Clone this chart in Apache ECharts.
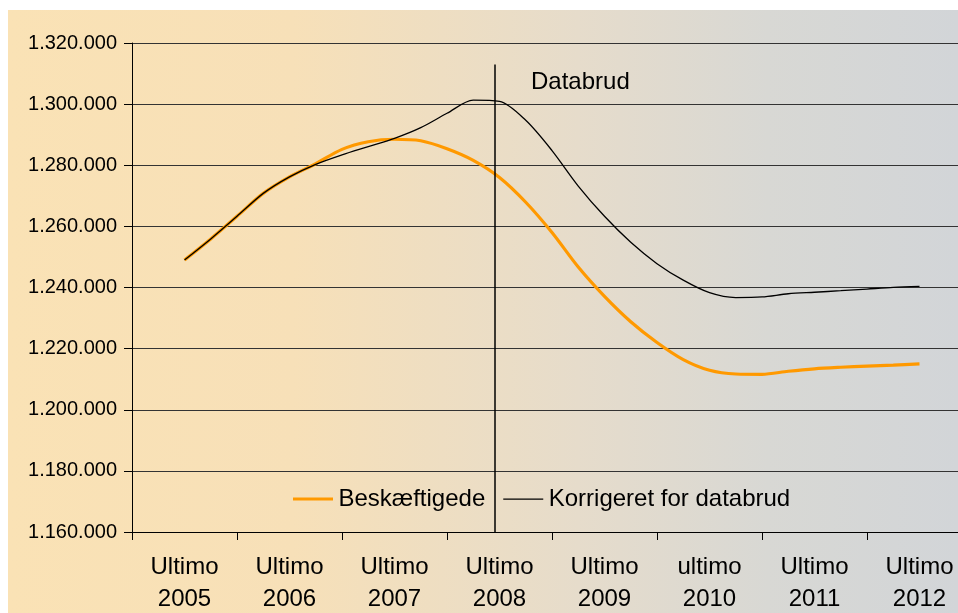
<!DOCTYPE html>
<html>
<head>
<meta charset="utf-8">
<script src="https://cdn.jsdelivr.net/npm/echarts@6/dist/echarts.min.js"></script>
<style>
html,body{margin:0;padding:0;background:#fff;width:958px;height:613px;overflow:hidden;}
#bg{position:absolute;left:8px;top:10px;width:950px;height:603px;
background:linear-gradient(to right,#FAE2B5 0%,#F7E0B8 30%,#E6DCCB 60%,#D8D8D4 80%,#D2D5D8 100%);}
#chart{position:absolute;left:0;top:0;width:990px;height:613px;}
</style>
</head>
<body>
<div id="bg"></div>
<div id="chart"></div>
<script>
// Category labels (years)
const categories = ['Ultimo\n2005','Ultimo\n2006','Ultimo\n2007','Ultimo\n2008','Ultimo\n2009','ultimo\n2010','Ultimo\n2011','Ultimo\n2012'];
// Quarterly values, ultimo 2005 .. ultimo 2012
const beskaeftigede = [1249000,1255900,1263300,1270800,1276200,1280500,1285200,1287700,1288500,1288000,1285400,1281600,1276000,1267900,1258000,1246700,1237100,1228800,1222000,1216400,1212900,1211700,1211600,1212600,1213400,1213900,1214300,1214600,1215000];
const korrigeret = [1249000,1255900,1263300,1270800,1276200,1280300,1283400,1286100,1288800,1292300,1297000,1301300,1300900,1294700,1284800,1273200,1263300,1254800,1247800,1242400,1238300,1236700,1236900,1237950,1238450,1238950,1239500,1240050,1240400];
const seriesNames = ['Beskæftigede','Korrigeret for databrud'];
const breakQuarter = 11.8;      // data break position (quarter index)
const breakTop = 1313000;
const yMin = 1160000, yMax = 1320000, yStep = 20000;

function fmt(v){ return String(v).replace(/\B(?=(\d{3})+(?!\d))/g,'.'); }
function pts(arr){ return arr.map((v,i)=>[i,v]); }

const chart = echarts.init(document.getElementById('chart'), null, {renderer:'canvas'});
const font = 'Liberation Sans, Arial, sans-serif';
chart.setOption({
  backgroundColor:'transparent',
  animation:false,
  textStyle:{fontFamily:font},
  grid:{left:132, top:43, width:840, height:489, containLabel:false, outerBoundsMode:'none'},
  legend:{
    left:288, top:482, itemWidth:41, itemHeight:3, itemGap:18,
    textStyle:{fontSize:24, color:'#000', fontFamily:font},
    data:[
      {name:seriesNames[0], icon:'path://M0,0H40V3H0Z', itemStyle:{color:'#FF9900'}},
      {name:seriesNames[1], icon:'path://M0,0H0.01V3H0Z M0,1H40V2.2H0Z', itemStyle:{color:'#000'}}
    ]
  },
  xAxis:[{
    type:'category', data:categories, boundaryGap:true,
    axisLine:{onZero:false, lineStyle:{color:'#000', width:1}},
    axisTick:{show:true, length:8, lineStyle:{color:'#000'}},
    axisLabel:{fontSize:24, color:'#000', lineHeight:32, margin:19, fontFamily:font, interval:0},
    splitLine:{show:false}
  },{
    type:'value', min:-2, max:30, show:false
  }],
  yAxis:{
    type:'value', min:yMin, max:yMax, interval:yStep,
    axisLine:{show:true, onZero:false, lineStyle:{color:'#000', width:1}},
    axisTick:{show:true, length:8, lineStyle:{color:'#000'}},
    axisLabel:{fontSize:20, color:'#000', margin:15, formatter:fmt, fontFamily:font},
    splitLine:{show:true, lineStyle:{color:'#333', width:1}}
  },
  graphic:[{
    type:'text', left:531, top:70,
    style:{text:'Databrud', fontSize:24, fill:'#000', fontFamily:font}
  }],
  series:[{
    name:seriesNames[0], type:'line', xAxisIndex:1, data:pts(beskaeftigede),
    symbol:'none', smooth:0.3, lineStyle:{color:'#FF9900', width:3.2}, itemStyle:{color:'#FF9900'}, z:3,
    markLine:{
      silent:true, symbol:['none','none'], label:{show:false},
      lineStyle:{color:'#000', width:1.5, type:'solid'},
      data:[[{coord:[breakQuarter,breakTop]},{coord:[breakQuarter,yMin]}]]
    }
  },{
    name:seriesNames[1], type:'line', xAxisIndex:1, data:pts(korrigeret),
    symbol:'none', smooth:0.3, lineStyle:{color:'#000', width:1.3}, itemStyle:{color:'#000'}, z:4
  }]
});
</script>
</body>
</html>
